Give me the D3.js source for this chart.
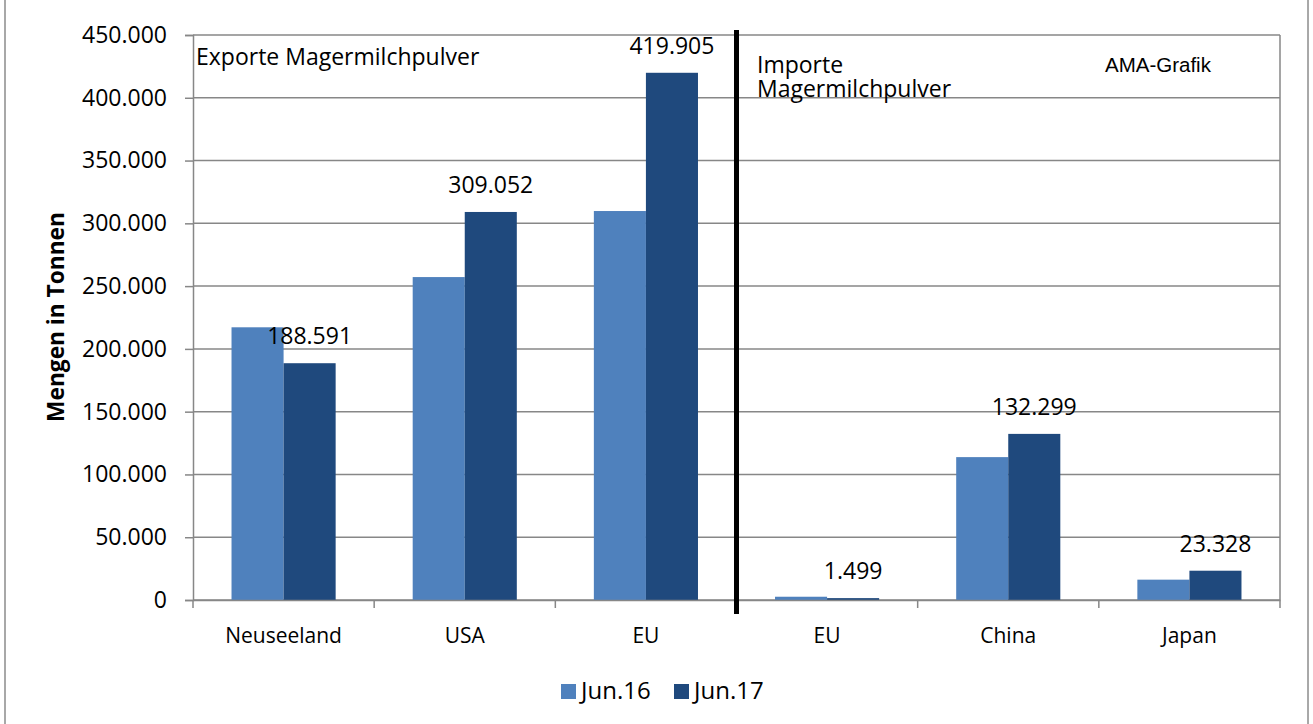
<!DOCTYPE html>
<html>
<head>
<meta charset="utf-8">
<script src="https://cdn.jsdelivr.net/npm/d3@7"></script>
<style>
  body { margin: 0; background: #fff; }
  text { font-family: "Open Sans", sans-serif; fill: #000; }
</style>
</head>
<body>
<svg width="1313" height="724"></svg>
<script>
// data
var categories = ["Neuseeland", "USA", "EU", "EU", "China", "Japan"];
var seriesNames = ["Jun.16", "Jun.17"];
var jun16 = [217200, 257200, 309800, 2600, 113800, 16200];
var jun17 = [188591, 309052, 419905, 1499, 132299, 23328];
var labels17 = ["188.591", "309.052", "419.905", "1.499", "132.299", "23.328"];
var yTicks = [0, 50000, 100000, 150000, 200000, 250000, 300000, 350000, 400000, 450000];
var colors = ["#4F81BD", "#1F497D"];

var svg = d3.select("svg"),
    margin = {top: 35, right: 33, bottom: 124, left: 193},
    width = +svg.attr("width") - margin.left - margin.right,
    height = +svg.attr("height") - margin.top - margin.bottom;

// outer frame
svg.append("rect")
    .attr("x", 5).attr("y", -2)
    .attr("width", 1303).attr("height", 740)
    .attr("fill", "none")
    .attr("stroke", "#8c8c8c")
    .attr("stroke-width", 1.5);

var g = svg.append("g").attr("transform", "translate(" + margin.left + "," + margin.top + ")");

var x0 = d3.scaleBand()
    .domain(d3.range(categories.length))
    .range([0, width]);

var x1 = d3.scaleBand()
    .domain(seriesNames)
    .range([0, x0.bandwidth()])
    .paddingOuter(0.74);

var y = d3.scaleLinear()
    .domain([0, 450000])
    .range([height, 0]);

var fmt = function(d) { return d === 0 ? "0" : d3.format(",")(d).replace(/,/g, "."); };

// gridlines
g.append("g")
    .selectAll("line")
    .data(yTicks)
    .enter().append("line")
    .attr("x1", 0).attr("x2", width)
    .attr("y1", function(d) { return y(d); })
    .attr("y2", function(d) { return y(d); })
    .attr("stroke", "#878787")
    .attr("stroke-width", 1.5);

// right border of plot
g.append("line")
    .attr("x1", width).attr("x2", width)
    .attr("y1", 0).attr("y2", height)
    .attr("stroke", "#878787")
    .attr("stroke-width", 1.5);

// bars
var data = categories.map(function(c, i) { return {i: i, vals: [jun16[i], jun17[i]]}; });
var groups = g.selectAll(".grp")
    .data(data)
    .enter().append("g")
    .attr("transform", function(d) { return "translate(" + x0(d.i) + ",0)"; });

groups.selectAll("rect")
    .data(function(d) { return d.vals.map(function(v, k) { return {s: seriesNames[k], v: v, k: k}; }); })
    .enter().append("rect")
    .attr("x", function(d) { return x1(d.s); })
    .attr("width", x1.bandwidth())
    .attr("y", function(d) { return y(d.v); })
    .attr("height", function(d) { return height - y(d.v); })
    .attr("fill", function(d) { return colors[d.k]; });

// data labels Jun.17
groups.append("text")
    .attr("x", x1("Jun.17") + x1.bandwidth() / 2)
    .attr("y", function(d) { return y(d.vals[1]) - 19; })
    .attr("text-anchor", "middle")
    .style("font-size", "23px")
    .text(function(d) { return labels17[d.i]; });

// y axis
var yAxis = g.append("g")
    .call(d3.axisLeft(y).tickValues(yTicks).tickFormat(fmt).tickSize(8).tickPadding(18));
yAxis.select(".domain").attr("stroke", "#878787").attr("stroke-width", 1.5);
yAxis.selectAll(".tick line").attr("stroke", "#878787").attr("stroke-width", 1.5);
yAxis.selectAll("text")
    .style("font-size", "23px")
    .style("font-family", "'Open Sans', sans-serif")
    .attr("fill", "#000");

// x axis
var xAxis = g.append("g")
    .attr("transform", "translate(0," + height + ")")
    .call(d3.axisBottom(x0).tickFormat(function(i) { return categories[i]; }).tickSize(0).tickPadding(28));
xAxis.select(".domain").attr("stroke", "#878787").attr("stroke-width", 1.5);
xAxis.selectAll("text")
    .style("font-size", "21px")
    .style("font-family", "'Open Sans', sans-serif")
    .attr("fill", "#000");
// ticks at band boundaries
xAxis.selectAll(".bound")
    .data(d3.range(categories.length + 1))
    .enter().append("line")
    .attr("x1", function(i) { return i * x0.step(); })
    .attr("x2", function(i) { return i * x0.step(); })
    .attr("y1", 0).attr("y2", 8)
    .attr("stroke", "#878787")
    .attr("stroke-width", 1.5);

// separator export / import
g.append("line")
    .attr("x1", x0(3)).attr("x2", x0(3))
    .attr("y1", -5).attr("y2", height + 14)
    .attr("stroke", "#000")
    .attr("stroke-width", 5);

// y title
svg.append("text")
    .attr("transform", "translate(64,317) rotate(-90)")
    .attr("text-anchor", "middle")
    .style("font-size", "22.7px")
    .style("font-weight", "bold")
    .text("Mengen in Tonnen");

// panel texts
svg.append("text").attr("x", 196).attr("y", 65).style("font-size", "23px").text("Exporte Magermilchpulver");
svg.append("text").attr("x", 757).attr("y", 73).style("font-size", "23px").text("Importe");
svg.append("text").attr("x", 757).attr("y", 97).style("font-size", "23px").text("Magermilchpulver");
svg.append("text").attr("x", 1105).attr("y", 72)
    .style("font-family", "'Liberation Sans', Arial, sans-serif")
    .style("font-size", "20.5px").text("AMA-Grafik");

// legend
var legend = svg.append("g");
var legX = [561, 674];
seriesNames.forEach(function(s, k) {
    legend.append("rect")
        .attr("x", legX[k]).attr("y", 684)
        .attr("width", 15).attr("height", 15)
        .attr("fill", colors[k]);
    legend.append("text")
        .attr("x", legX[k] + 20).attr("y", 699)
        .style("font-size", "24px")
        .text(s);
});
</script>
</body>
</html>
